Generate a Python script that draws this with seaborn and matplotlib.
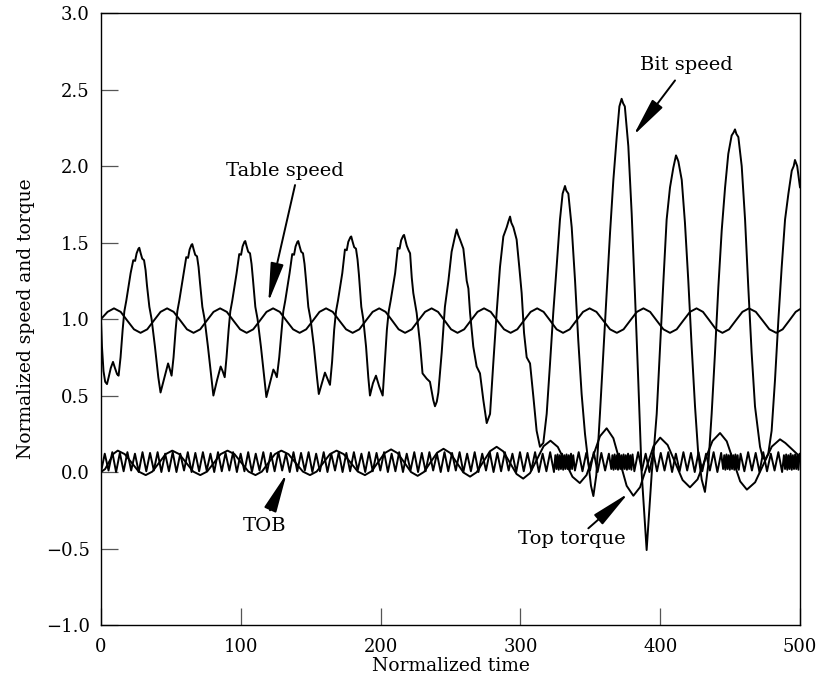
import numpy as np
import pandas as pd
import matplotlib
matplotlib.use("Agg")
import matplotlib.pyplot as plt
import seaborn as sns

# ---------------------------------------------------------------
# Normalized drill-string response: (time, value) pairs per signal
# ---------------------------------------------------------------

bit_speed = [
    (0.0, 1.00), (0.7, 0.82), (1.8, 0.66), (3.0, 0.59), (4.3, 0.575), (5.5, 0.62),
    (7.0, 0.68), (8.6, 0.72), (10.0, 0.68), (11.5, 0.64), (12.6, 0.63),
    (14.0, 0.75), (15.5, 0.93), (16.7, 1.05), (18.1, 1.12), (19.5, 1.20), (21.2, 1.30),
    (23.1, 1.385), (24.4, 1.38), (25.5, 1.43), (26.8, 1.46), (27.4, 1.466),
    (28.4, 1.43), (29.5, 1.395), (30.8, 1.385), (31.9, 1.32), (32.9, 1.22), (34.6, 1.08),
    (36.2, 1.00), (38.6, 0.82), (41.0, 0.62), (42.6, 0.52), (45.4, 0.62), (48.0, 0.71),
    (49.3, 0.67), (50.5, 0.63),
    (51.9, 0.75), (53.4, 0.93), (54.6, 1.05), (56.0, 1.12), (57.4, 1.20), (59.1, 1.30),
    (61.0, 1.405), (62.3, 1.40), (63.4, 1.455), (64.7, 1.485), (65.3, 1.49),
    (66.3, 1.455), (67.4, 1.42), (68.7, 1.41), (69.8, 1.34), (70.8, 1.24), (72.5, 1.08),
    (74.1, 1.00), (76.5, 0.82), (78.9, 0.62), (80.4, 0.50), (83.0, 0.60), (85.6, 0.69),
    (87.0, 0.66), (88.5, 0.62),
    (89.8, 0.75), (91.3, 0.93), (92.5, 1.05), (93.9, 1.12), (95.3, 1.20), (97.0, 1.30),
    (98.9, 1.425), (100.2, 1.42), (101.3, 1.475), (102.6, 1.505), (103.2, 1.51),
    (104.2, 1.475), (105.3, 1.44), (106.6, 1.43), (107.7, 1.36), (108.7, 1.26), (110.4, 1.08),
    (112.0, 1.00), (114.4, 0.82), (116.8, 0.62), (118.3, 0.49), (120.8, 0.58), (123.3, 0.67),
    (124.5, 0.65), (125.8, 0.62),
    (127.5, 0.75), (129.2, 0.93), (130.4, 1.05), (131.8, 1.12), (133.2, 1.20), (134.9, 1.30),
    (136.8, 1.425), (138.1, 1.42), (139.2, 1.475), (140.5, 1.505), (141.1, 1.51),
    (142.1, 1.475), (143.2, 1.44), (144.5, 1.43), (145.6, 1.36), (146.6, 1.26), (148.3, 1.08),
    (149.9, 1.00), (152.3, 0.82), (154.5, 0.62), (155.8, 0.51), (158.0, 0.58), (160.2, 0.65),
    (162.0, 0.61), (163.8, 0.57),
    (165.3, 0.72), (166.8, 0.93), (168.1, 1.05), (169.5, 1.12), (170.9, 1.20), (172.6, 1.30),
    (174.5, 1.455), (175.8, 1.45), (176.9, 1.505), (178.4, 1.535), (179.0, 1.54),
    (180.0, 1.505), (181.1, 1.47), (182.4, 1.46), (183.5, 1.39), (184.5, 1.29), (186.2, 1.08),
    (187.6, 1.00), (189.6, 0.82), (191.2, 0.62), (192.4, 0.50), (194.5, 0.58), (196.7, 0.63),
    (199.0, 0.56), (201.5, 0.50),
    (203.0, 0.72), (204.5, 0.93), (205.8, 1.05), (207.2, 1.12), (208.6, 1.20), (210.4, 1.30),
    (212.3, 1.465), (213.6, 1.46), (214.7, 1.515), (216.2, 1.545), (216.8, 1.55),
    (218.7, 1.48), (220.0, 1.45), (221.1, 1.43), (222.3, 1.27), (223.4, 1.17), (225.8, 1.04),
    (228.2, 0.84), (230.0, 0.645), (233.0, 0.61), (235.3, 0.59), (237.7, 0.47), (238.9, 0.43),
    (240.2, 0.46), (241.3, 0.52), (243.7, 0.78), (246.0, 1.08), (248.5, 1.25), (250.8, 1.44),
    (252.0, 1.49), (253.2, 1.54), (254.4, 1.586),
    (255.5, 1.55), (256.8, 1.52), (259.2, 1.46), (260.5, 1.35), (261.6, 1.25), (262.8, 1.20),
    (264.0, 1.04), (266.3, 0.82), (268.7, 0.69), (271.1, 0.645), (273.5, 0.47), (275.9, 0.32),
    (278.3, 0.38), (280.6, 0.71), (283.0, 1.04), (285.4, 1.34), (287.8, 1.54), (290.2, 1.60),
    (291.5, 1.64), (292.6, 1.67),
    (293.5, 1.63), (295.0, 1.60), (297.3, 1.52), (299.2, 1.34), (300.9, 1.17), (302.6, 0.91),
    (304.5, 0.75), (306.9, 0.71), (309.3, 0.49), (311.6, 0.27), (314.0, 0.165), (316.4, 0.19),
    (318.8, 0.38), (321.2, 0.71), (323.5, 1.04), (325.9, 1.34), (328.3, 1.65), (330.2, 1.82),
    (331.9, 1.87),
    (332.8, 1.84), (334.3, 1.82), (336.7, 1.60), (339.1, 1.25), (341.4, 0.86), (343.8, 0.51),
    (346.2, 0.25), (348.6, 0.057), (350.5, -0.09), (352.2, -0.157), (354.3, -0.02),
    (356.9, 0.38), (359.3, 0.78), (361.7, 1.17), (364.1, 1.56), (366.5, 1.91), (368.9, 2.19),
    (370.8, 2.39), (371.8, 2.42), (372.4, 2.44),
    (373.5, 2.41), (374.7, 2.39), (377.2, 2.13), (379.6, 1.69), (382.0, 1.15), (384.3, 0.60),
    (386.7, 0.00), (388.5, -0.25), (390.3, -0.51), (392.2, -0.25), (394.0, 0.00),
    (395.5, 0.15), (397.5, 0.38), (399.9, 0.82), (402.3, 1.25), (404.6, 1.65), (407.0, 1.86),
    (409.4, 1.99), (411.3, 2.07),
    (412.2, 2.05), (413.0, 2.03), (415.4, 1.91), (417.7, 1.63), (420.1, 1.25), (422.5, 0.82),
    (424.9, 0.43), (427.2, 0.12), (429.7, -0.05), (432.0, -0.13), (434.5, 0.057),
    (436.8, 0.38), (439.2, 0.78), (441.6, 1.21), (444.0, 1.58), (446.4, 1.86), (448.7, 2.08),
    (451.1, 2.20), (452.5, 2.22), (453.5, 2.24),
    (454.5, 2.21), (455.9, 2.19), (458.3, 2.00), (460.7, 1.65), (463.0, 1.21), (465.4, 0.78),
    (467.8, 0.43), (471.4, 0.165), (473.2, 0.10), (475.0, 0.08), (477.3, 0.12), (479.7, 0.27),
    (482.1, 0.60), (484.5, 0.99), (486.9, 1.34), (489.3, 1.65), (491.7, 1.82), (494.1, 1.97),
    (495.5, 2.00), (496.4, 2.04), (498.0, 2.00), (500.0, 1.86),
]

table_speed = [
    (0.0, 1.00), (4.7, 1.047), (9.3, 1.07),
    (14.1, 1.047), (18.8, 0.99), (23.6, 0.933), (28.3, 0.91),
    (33.1, 0.933), (37.8, 0.99), (42.6, 1.047), (47.3, 1.07),
    (52.0, 1.047), (56.8, 0.99), (61.5, 0.933), (66.2, 0.91),
    (71.0, 0.933), (75.7, 0.99), (80.5, 1.047), (85.2, 1.07),
    (90.0, 1.047), (94.7, 0.99), (99.5, 0.933), (104.2, 0.91),
    (108.9, 0.933), (113.7, 0.99), (118.4, 1.047), (123.1, 1.07),
    (127.9, 1.047), (132.6, 0.99), (137.4, 0.933), (142.1, 0.91),
    (146.8, 0.933), (151.6, 0.99), (156.3, 1.047), (161.0, 1.07),
    (165.8, 1.047), (170.5, 0.99), (175.3, 0.933), (180.0, 0.91),
    (184.8, 0.933), (189.5, 0.99), (194.3, 1.047), (199.0, 1.07),
    (203.6, 1.047), (208.3, 0.99), (212.9, 0.933), (217.5, 0.91),
    (222.3, 0.933), (227.0, 0.99), (231.8, 1.047), (236.5, 1.07),
    (241.1, 1.047), (245.8, 0.99), (250.4, 0.933), (255.0, 0.91),
    (259.8, 0.933), (264.5, 0.99), (269.3, 1.047), (274.0, 1.07),
    (278.8, 1.047), (283.5, 0.99), (288.3, 0.933), (293.0, 0.91),
    (297.8, 0.933), (302.5, 0.99), (307.3, 1.047), (312.0, 1.07),
    (316.6, 1.047), (321.3, 0.99), (325.9, 0.933), (330.5, 0.91),
    (335.3, 0.933), (340.0, 0.99), (344.8, 1.047), (349.5, 1.07),
    (354.4, 1.047), (359.3, 0.99), (364.1, 0.933), (369.0, 0.91),
    (373.8, 0.933), (378.5, 0.99), (383.3, 1.047), (388.0, 1.07),
    (392.8, 1.047), (397.5, 0.99), (402.3, 0.933), (407.0, 0.91),
    (411.8, 0.933), (416.5, 0.99), (421.3, 1.047), (426.0, 1.07),
    (430.6, 1.047), (435.3, 0.99), (439.9, 0.933), (444.5, 0.91),
    (449.3, 0.933), (454.0, 0.99), (458.8, 1.047), (463.5, 1.07),
    (468.4, 1.047), (473.3, 0.99), (478.1, 0.933), (483.0, 0.91),
    (487.6, 0.933), (492.3, 0.99), (496.9, 1.047), (500.0, 1.065),
]

top_torque = [
    (0.0, 0.0), (3.0, 0.02), (6.0, 0.07), (9.0, 0.12), (12.0, 0.14),
    (17.0, 0.117), (22.0, 0.06), (27.0, 0.003), (32.0, -0.02),
    (36.75, 0.003), (41.5, 0.06), (46.25, 0.117), (51.0, 0.14),
    (56.0, 0.117), (61.0, 0.06), (66.0, 0.003), (71.0, -0.02),
    (75.9, 0.003), (80.75, 0.06), (85.6, 0.117), (90.5, 0.14),
    (95.5, 0.117), (100.5, 0.06), (105.5, 0.003), (110.5, -0.02),
    (115.1, 0.003), (119.75, 0.06), (124.4, 0.117), (129.0, 0.14),
    (134.1, 0.117), (139.25, 0.06), (144.4, 0.003), (149.5, -0.02),
    (154.25, 0.003), (159.0, 0.06), (163.75, 0.117), (168.5, 0.14),
    (173.6, 0.117), (178.7, 0.06), (183.7, 0.003), (188.8, -0.02),
    (193.5, 0.005), (198.2, 0.064), (202.8, 0.123), (207.5, 0.148),
    (212.25, 0.123), (217.0, 0.062), (221.75, 0.0), (226.5, -0.025),
    (231.1, 0.001), (235.75, 0.064), (240.4, 0.126), (245.0, 0.152),
    (249.75, 0.125), (254.5, 0.061), (259.25, -0.003), (264.0, -0.03),
    (268.75, -0.001), (273.5, 0.068), (278.25, 0.136), (283.0, 0.165),
    (287.75, 0.135), (292.5, 0.061), (297.25, -0.013), (302.0, -0.043),
    (306.9, -0.007), (311.75, 0.081), (316.6, 0.169), (321.5, 0.205),
    (326.75, 0.164), (332.0, 0.067), (337.25, -0.031), (342.5, -0.072),
    (347.3, -0.02), (352.1, 0.107), (356.9, 0.234), (361.7, 0.286),
    (366.5, 0.221), (371.25, 0.066), (376.0, -0.09), (380.8, -0.155),
    (385.6, -0.099), (390.4, 0.035), (395.2, 0.169), (400.0, 0.225),
    (405.3, 0.177), (410.65, 0.063), (416.0, -0.052), (421.3, -0.10),
    (426.7, -0.048), (432.0, 0.078), (437.4, 0.203), (442.8, 0.255),
    (447.6, 0.201), (452.4, 0.07), (457.2, -0.061), (462.0, -0.115),
    (467.9, -0.067), (473.85, 0.05), (479.8, 0.166), (485.7, 0.214),
    (489.5, 0.19), (493.0, 0.16), (496.5, 0.13), (500.0, 0.10),
]

# TOB is sampled on uniform grids: (start time, sample step, values)
tob_segments = [
    (0.0, 2.7, [
        0.000, 0.120, 0.010, 0.130, 0.000, 0.125, 0.005, 0.130, 0.010, 0.120,
        0.000, 0.130, 0.005, 0.125, 0.010, 0.130, 0.000, 0.120, 0.005, 0.130,
        0.000, 0.120, 0.010, 0.130, 0.000, 0.125, 0.005, 0.130, 0.010, 0.120,
        0.000, 0.130, 0.005, 0.125, 0.010, 0.130, 0.000, 0.120, 0.005, 0.130,
        0.000, 0.120, 0.010, 0.130, 0.000, 0.125, 0.005, 0.130, 0.010, 0.120,
        0.000, 0.130, 0.005, 0.125, 0.010, 0.130, 0.000, 0.120, 0.005, 0.130,
        0.000, 0.120, 0.010, 0.130, 0.000, 0.125, 0.005, 0.130, 0.010, 0.120,
        0.000, 0.130, 0.005, 0.125, 0.010, 0.130, 0.000, 0.120, 0.005, 0.130,
        0.000, 0.120, 0.010, 0.130, 0.000, 0.125, 0.005, 0.130, 0.010, 0.120,
        0.000, 0.130, 0.005, 0.125, 0.010, 0.130, 0.000, 0.120, 0.005, 0.130,
        0.000, 0.120, 0.010, 0.130, 0.000, 0.125, 0.005, 0.130, 0.010, 0.120,
        0.000, 0.130, 0.005, 0.125, 0.010, 0.130, 0.000, 0.120, 0.005, 0.130,
        0.000,
    ]),
    (325.0, 0.8, [
        0.110, 0.020, 0.115, 0.015, 0.110, 0.020, 0.120, 0.015, 0.110, 0.020,
        0.115, 0.020, 0.110, 0.015, 0.120, 0.020, 0.110,
    ]),
    (339.0, 2.7, [
        0.010, 0.130, 0.005, 0.125, 0.010, 0.130, 0.000, 0.125, 0.010, 0.120,
    ]),
    (365.0, 0.8, [
        0.020, 0.110, 0.015, 0.115, 0.020, 0.110, 0.015, 0.120, 0.020, 0.110,
        0.015, 0.115, 0.020, 0.110, 0.015, 0.120, 0.020, 0.110, 0.015, 0.115,
    ]),
    (381.5, 2.7, [
        0.005, 0.130, 0.010, 0.120, 0.000, 0.130, 0.005, 0.125, 0.010, 0.130,
        0.000, 0.120, 0.005, 0.130, 0.010, 0.125, 0.000, 0.130, 0.005, 0.120,
        0.010, 0.130, 0.000, 0.125,
    ]),
    (445.0, 0.8, [
        0.020, 0.110, 0.015, 0.115, 0.020, 0.110, 0.015, 0.120, 0.020, 0.110,
        0.015, 0.115, 0.020, 0.110, 0.015,
    ]),
    (457.5, 2.7, [
        0.120, 0.005, 0.130, 0.010, 0.125, 0.000, 0.130, 0.005, 0.120, 0.010,
        0.130, 0.000,
    ]),
    (488.5, 0.8, [
        0.110, 0.020, 0.115, 0.015, 0.110, 0.020, 0.120, 0.015, 0.110, 0.020,
        0.115, 0.020, 0.110, 0.015, 0.120,
    ]),
]

x_ticks = [0, 100, 200, 300, 400, 500]
y_ticks = [-1.0, -0.5, 0.0, 0.5, 1.0, 1.5, 2.0, 2.5, 3.0]

# callouts: text, text position, arrow tip, arrow tail (data units)
callouts = [
    ("Bit speed", (418.8, 2.66), (380.8, 2.20), (410.6, 2.56)),
    ("Table speed", (131.6, 1.97), (119.7, 1.11), (138.8, 1.876)),
    ("TOB", (117.3, -0.356), (132.8, -0.01), (120.9, -0.25)),
    ("Top torque", (337.0, -0.435), (377.2, -0.139), (348.6, -0.368)),
]

# ---------------------------------------------------------------
sns.set_theme(style="white")
plt.rcParams["font.family"] = ["DejaVu Serif"]
plt.rcParams["axes.unicode_minus"] = True

fig = plt.figure(figsize=(8.17, 6.91), dpi=100)
ax = fig.add_axes([0.1236, 0.0955, 0.8556, 0.8855])

line_kw = dict(color="black", linewidth=1.4, estimator=None, sort=False, ax=ax)

for series in (table_speed, top_torque, bit_speed):
    df = pd.DataFrame(series, columns=["t", "v"])
    sns.lineplot(data=df, x="t", y="v", **line_kw)

tob_t, tob_v = [], []
for start, step, vals in tob_segments:
    tob_t.extend(start + step * np.arange(len(vals)))
    tob_v.extend(vals)
tob_df = pd.DataFrame({"t": tob_t, "v": tob_v})
sns.lineplot(data=tob_df, x="t", y="v", **line_kw)

for label, text_xy, tip_xy, tail_xy in callouts:
    ax.text(*text_xy, label, ha="center", va="center", fontsize=14, color="black")
    ax.annotate(
        "", xy=tip_xy, xytext=tail_xy,
        arrowprops=dict(arrowstyle="-|>,head_length=1.2,head_width=0.2",
                        mutation_scale=20, color="black", lw=1.4,
                        shrinkA=0, shrinkB=0),
    )

ax.set_xlim(0, 500)
ax.set_ylim(-1.0, 3.0)
ax.set_xticks(x_ticks)
ax.set_xticklabels([str(v) for v in x_ticks])
ax.set_yticks(y_ticks)
ax.set_yticklabels([f"{v:.1f}".replace("-", "\u2212") for v in y_ticks])
ax.tick_params(axis="both", direction="in", length=12.5, width=0.9,
               color="#555555", labelsize=13, labelcolor="black",
               top=False, right=False, bottom=True, left=True)
ax.tick_params(axis="x", pad=9)
ax.tick_params(axis="y", pad=8)

for spine in ax.spines.values():
    spine.set_color("black")
    spine.set_linewidth(1.0)

ax.set_xlabel("Normalized time", fontsize=13.5, labelpad=1, color="black")
ax.set_ylabel("Normalized speed and torque", fontsize=13.5, labelpad=8, color="black")
ax.grid(False)

fig.savefig("out.png", dpi=100, facecolor="white")
